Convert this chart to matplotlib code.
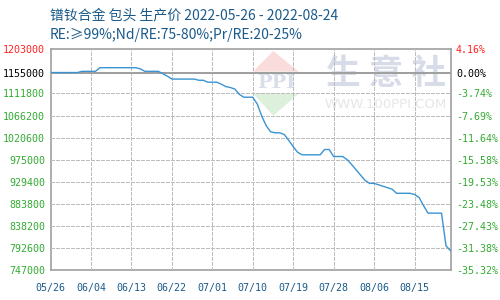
import matplotlib
matplotlib.use("Agg")
import matplotlib.pyplot as plt
from matplotlib.patches import Polygon

# ---- data ----
x_labels = ["05/26", "06/04", "06/13", "06/22", "07/01", "07/10", "07/19", "07/28", "08/06", "08/15"]
x_tick_days = [0, 9, 18, 27, 36, 45, 54, 63, 72, 81]
y_ticks = [747000, 792600, 838200, 883800, 929400, 975000, 1020600, 1066200, 1111800, 1155000, 1203000]
pct_labels = ["-35.32%", "-31.38%", "-27.43%", "-23.48%", "-19.53%", "-15.58%", "-11.64%",
              "-7.69%", "-3.74%", "0.00%", "4.16%"]
base_price = 1155000
prices = [
    1155000, 1155000, 1155000, 1155000, 1155000, 1155000, 1155000,
    1157500, 1157500, 1157500, 1157500,
    1165000, 1165000, 1165000, 1165000, 1165000, 1165000, 1165000, 1165000, 1165000,
    1162500,
    1157500, 1157500, 1157500, 1157500,
    1152500, 1147500,
    1141500, 1141500, 1141500, 1141500, 1141500, 1141500,
    1139000, 1139000,
    1135000, 1135000, 1135000,
    1131000, 1126000, 1124000, 1121000, 1110000,
    1104000, 1104000, 1104000,
    1090000, 1065000, 1045000, 1032500,
    1030500, 1030500,
    1027000, 1015000, 1002000, 990000,
    985000, 985000, 985000, 985000, 985000,
    996000, 996000,
    981500, 981500, 981500,
    975000, 965000, 954000, 943000, 932000,
    926000, 926000,
    923000, 920000, 917000, 914000,
    905500, 905500, 905500, 905500,
    903000, 897000, 880000,
    864500, 864500, 864500, 864500,
    797000, 787000,
]
days = list(range(len(prices)))

title1 = "镨钕合金 包头 生产价 2022-05-26 - 2022-08-24"
title2 = "RE:≥99%;Nd/RE:75-80%;Pr/RE:20-25%"

# ---- figure ----
W, H = 500, 300
fig = plt.figure(figsize=(5, 3), dpi=100)
fig.patch.set_facecolor("white")
L, R, T, B = 50.5, 450.5, 49.3, 270.0
rect = [L / W, 1 - B / H, (R - L) / W, (B - T) / H]

def fx(px):
    return px / W
def fy(py):
    return 1 - py / H

# watermark
red_tri = Polygon([[fx(273.3), fy(51)], [fx(252.7), fy(71.7)], [fx(299), fy(71.7)]],
                  closed=True, transform=fig.transFigure, facecolor="#fadcdc", edgecolor="none", zorder=-1)
green_tri = Polygon([[fx(253), fy(93.3)], [fx(299), fy(93.3)], [fx(273.3), fy(115.7)]],
                    closed=True, transform=fig.transFigure, facecolor="#dcf0dc", edgecolor="none", zorder=-1)
fig.add_artist(red_tri)
fig.add_artist(green_tri)
fig.text(fx(276), fy(83), "PPI", fontsize=14, color="#d8deea", ha="center", va="center",
         family="DejaVu Serif", fontweight="bold", zorder=-1)
fig.text(fx(386), fy(73), "生 意 社", fontsize=25, color="#d8dce8", ha="center", va="center",
         family=["Noto Sans CJK SC"], fontweight="bold", zorder=-1)
fig.text(fx(386), fy(105), "WWW.100PPI.COM", fontsize=9.5, color="#e6e6e6", ha="center", va="center",
         family="DejaVu Sans", zorder=-1)

# left axis: labels only
ax = fig.add_axes(rect, zorder=1)
ax.set_xlim(0, 89)
ax.set_ylim(747000, 1203000)
ax.patch.set_visible(False)

# right axis on top: grid + line
ax2 = fig.add_axes(rect, zorder=2, sharex=ax)
ax2.set_ylim(747000, 1203000)
ax2.patch.set_visible(False)
ax2.yaxis.tick_right()
ax2.xaxis.set_visible(False)

grid_c = "#bdbdbd"
for d in x_tick_days[1:]:
    ax2.axvline(d, color=grid_c, lw=0.72, ls=(0, (3, 2)), zorder=3, antialiased=False)
for v in y_ticks[1:-1]:
    ax2.axhline(v, color=grid_c, lw=0.72, ls=(0, (3, 2)), zorder=3, antialiased=False)
ax2.axhline(base_price, color="#a0a0a0", lw=1.2, zorder=4, antialiased=False)
ax2.plot(days, prices, color="#3a93d3", lw=1.0, zorder=5)

for s in ax.spines.values():
    s.set_color("#a0a0a0")
    s.set_linewidth(1.2)
for s in ax2.spines.values():
    s.set_visible(False)

# ticks
mono = "DejaVu Sans Mono"
ycolors = ["#33aa33"] * 9 + ["#000000", "#ff2222"]
ax.set_xticks(x_tick_days)
ax.set_xticklabels(x_labels, fontsize=7.2, family=mono, color="#1a5a8a")
ax.tick_params(axis="x", length=0, pad=9)
ax.set_yticks(y_ticks)
ax.set_yticklabels([str(v) for v in y_ticks], fontsize=7.2, family=mono)
ax.tick_params(axis="y", length=0, pad=4)
for lab, c in zip(ax.get_yticklabels(), ycolors):
    lab.set_color(c)

ax2.set_yticks(y_ticks)
ax2.set_yticklabels(pct_labels, fontsize=7.2, family=mono)
ax2.tick_params(axis="y", length=0, pad=4)
for lab, c in zip(ax2.get_yticklabels(), ycolors):
    lab.set_color(c)

fig.text(fx(50), fy(15), title1, fontsize=10, color="#1a5a8a", ha="left", va="center",
         family=["Noto Sans CJK SC", "DejaVu Sans"])
fig.text(fx(50), fy(35), title2, fontsize=10, color="#1a5a8a", ha="left", va="center",
         family=["Noto Sans CJK SC", "DejaVu Sans"])

fig.savefig("out.png", dpi=100)
